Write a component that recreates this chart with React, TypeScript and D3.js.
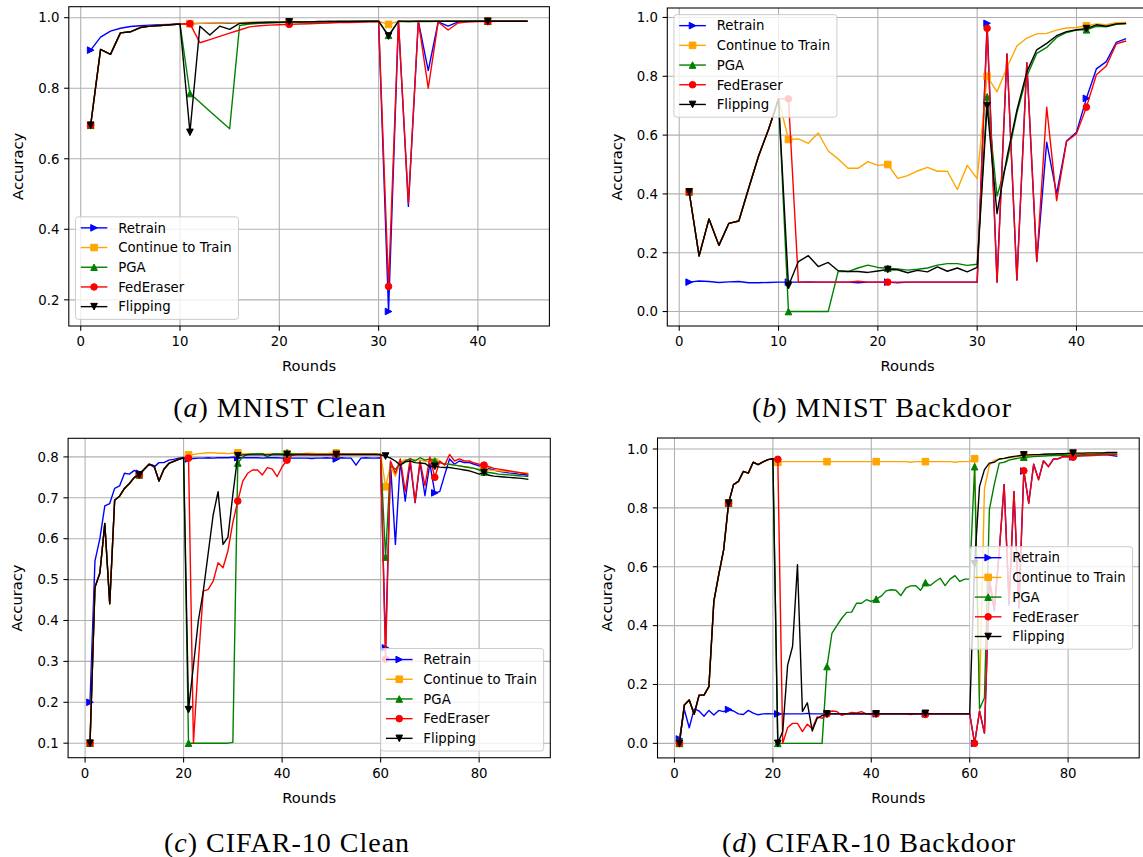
import React from 'react'
import * as d3 from 'd3'

const methods = ['Retrain', 'Continue to Train', 'PGA', 'FedEraser', 'Flipping']
const colors = ['#0000ff', '#ffa500', '#008000', '#ff0000', '#000000']
const markers = ['>', 's', '^', 'o', 'v']

// (a) MNIST Clean, rounds 1..45
const aWarmup = [0.695, 0.910, 0.896, 0.957, 0.960, 0.972, 0.976, 0.978, 0.980, 0.982]
const aRetrain = [
  0.908, 0.945, 0.962, 0.970, 0.975, 0.977, 0.979, 0.980, 0.981, 0.982,
  0.983, 0.984, 0.984, 0.985, 0.985, 0.986, 0.986, 0.987, 0.987, 0.987,
  0.988, 0.988, 0.988, 0.988, 0.989, 0.989, 0.989, 0.989, 0.990, 0.990,
  0.167, 0.990, 0.465, 0.990, 0.850, 0.988, 0.976, 0.988, 0.989, 0.990,
  0.990, 0.990, 0.990, 0.990, 0.990,
]
const aContinue = [...aWarmup,
  0.983, 0.984, 0.985, 0.985, 0.986, 0.986, 0.987, 0.987, 0.987, 0.988,
  0.988, 0.988, 0.988, 0.989, 0.989, 0.989, 0.989, 0.989, 0.990, 0.990,
  0.981, 0.990, 0.990, 0.990, 0.990, 0.990, 0.990, 0.990, 0.990, 0.990,
  0.990, 0.990, 0.990, 0.990, 0.990,
]
const aPGA = [...aWarmup,
  0.785, 0.760, 0.735, 0.710, 0.685, 0.978, 0.982, 0.984, 0.985, 0.986,
  0.987, 0.987, 0.988, 0.988, 0.988, 0.989, 0.989, 0.989, 0.989, 0.990,
  0.950, 0.990, 0.988, 0.990, 0.989, 0.990, 0.990, 0.990, 0.990, 0.990,
  0.990, 0.990, 0.990, 0.990, 0.990,
]
const aFedEraser = [...aWarmup,
  0.983, 0.929, 0.938, 0.947, 0.956, 0.965, 0.974, 0.977, 0.979, 0.980,
  0.981, 0.982, 0.983, 0.984, 0.985, 0.986, 0.986, 0.987, 0.988, 0.989,
  0.238, 0.990, 0.474, 0.990, 0.800, 0.988, 0.965, 0.985, 0.988, 0.989,
  0.989, 0.990, 0.990, 0.990, 0.990,
]
const aFlipping = [...aWarmup,
  0.675, 0.976, 0.951, 0.976, 0.967, 0.984, 0.985, 0.986, 0.987, 0.987,
  0.988, 0.988, 0.988, 0.989, 0.989, 0.989, 0.989, 0.990, 0.990, 0.990,
  0.948, 0.990, 0.990, 0.990, 0.990, 0.990, 0.990, 0.990, 0.990, 0.990,
  0.990, 0.990, 0.990, 0.990, 0.990,
]

// (b) MNIST Backdoor, rounds 1..45
const bWarmup = [0.407, 0.189, 0.315, 0.225, 0.300, 0.308, 0.420, 0.530, 0.620, 0.723]
const bRetrain = [
  0.100, 0.104, 0.102, 0.099, 0.101, 0.102, 0.098, 0.098, 0.099, 0.100,
  0.100, 0.100, 0.101, 0.100, 0.100, 0.100, 0.100, 0.098, 0.100, 0.100,
  0.100, 0.098, 0.100, 0.100, 0.100, 0.100, 0.100, 0.100, 0.100, 0.100,
  0.980, 0.100, 0.876, 0.107, 0.846, 0.170, 0.576, 0.400, 0.580, 0.610,
  0.725, 0.825, 0.850, 0.915, 0.928,
]
const bContinue = [...bWarmup,
  0.585, 0.587, 0.572, 0.607, 0.546, 0.519, 0.487, 0.487, 0.510, 0.497,
  0.500, 0.453, 0.462, 0.478, 0.490, 0.477, 0.477, 0.415, 0.497, 0.452,
  0.800, 0.747, 0.830, 0.903, 0.930, 0.944, 0.946, 0.957, 0.964, 0.966,
  0.972, 0.978, 0.975, 0.982, 0.983,
]
const bPGA = [...bWarmup,
  0.000, 0.000, 0.000, 0.000, 0.000, 0.136, 0.136, 0.148, 0.158, 0.150,
  0.147, 0.145, 0.141, 0.144, 0.148, 0.158, 0.163, 0.163, 0.157, 0.161,
  0.730, 0.393, 0.510, 0.675, 0.800, 0.878, 0.898, 0.932, 0.949, 0.957,
  0.958, 0.970, 0.968, 0.977, 0.978,
]
const bFedEraser = [...bWarmup,
  0.723, 0.100, 0.100, 0.100, 0.100, 0.100, 0.100, 0.103, 0.100, 0.100,
  0.100, 0.100, 0.100, 0.100, 0.100, 0.100, 0.100, 0.100, 0.100, 0.100,
  0.963, 0.100, 0.876, 0.107, 0.846, 0.170, 0.695, 0.377, 0.578, 0.605,
  0.695, 0.805, 0.835, 0.910, 0.920,
]
const bFlipping = [...bWarmup,
  0.088, 0.170, 0.190, 0.153, 0.167, 0.139, 0.136, 0.136, 0.133, 0.138,
  0.143, 0.142, 0.132, 0.140, 0.135, 0.152, 0.137, 0.148, 0.135, 0.150,
  0.700, 0.333, 0.525, 0.685, 0.815, 0.890, 0.912, 0.938, 0.952, 0.958,
  0.962, 0.975, 0.970, 0.978, 0.980,
]

// (c) CIFAR-10 Clean, rounds 1..90
const cWarmup = [
  0.100, 0.481, 0.516, 0.637, 0.441, 0.694, 0.704, 0.723, 0.735, 0.750,
  0.756, 0.770, 0.782, 0.778, 0.741, 0.770, 0.784, 0.789, 0.794, 0.798,
]
const cRetrain = [
  0.200, 0.545, 0.600, 0.680, 0.686, 0.723, 0.729, 0.760, 0.758, 0.767,
  0.760, 0.770, 0.782, 0.775, 0.786, 0.786, 0.792, 0.794, 0.797, 0.799,
  0.795, 0.796, 0.797, 0.797, 0.798, 0.797, 0.798, 0.798, 0.798, 0.799,
  0.798, 0.798, 0.798, 0.798, 0.798, 0.797, 0.798, 0.798, 0.798, 0.797,
  0.797, 0.797, 0.797, 0.797, 0.797, 0.796, 0.797, 0.797, 0.798, 0.797,
  0.795, 0.798, 0.797, 0.797, 0.780, 0.797, 0.798, 0.797, 0.797, 0.798,
  0.333, 0.785, 0.586, 0.790, 0.692, 0.787, 0.688, 0.786, 0.705, 0.784,
  0.712, 0.715, 0.756, 0.795, 0.782, 0.790, 0.786, 0.786, 0.782, 0.778,
  0.775, 0.771, 0.768, 0.765, 0.763, 0.761, 0.760, 0.758, 0.757, 0.755,
]
const cContinue = [...cWarmup,
  0.805, 0.806, 0.808, 0.809, 0.810, 0.810, 0.809, 0.809, 0.808, 0.809,
  0.810, 0.808, 0.808, 0.808, 0.808, 0.808, 0.807, 0.808, 0.808, 0.808,
  0.808, 0.808, 0.808, 0.808, 0.809, 0.809, 0.808, 0.808, 0.808, 0.809,
  0.810, 0.808, 0.808, 0.808, 0.808, 0.808, 0.808, 0.808, 0.808, 0.808,
  0.727, 0.778, 0.753, 0.786, 0.794, 0.792, 0.794, 0.792, 0.790, 0.788,
  0.787, 0.785, 0.783, 0.782, 0.780, 0.778, 0.776, 0.774, 0.772, 0.770,
  0.770, 0.768, 0.767, 0.766, 0.765, 0.764, 0.763, 0.762, 0.761, 0.760,
]
const cPGA = [...cWarmup,
  0.100, 0.100, 0.100, 0.100, 0.100, 0.100, 0.100, 0.100, 0.100, 0.102,
  0.785, 0.800, 0.806, 0.807, 0.808, 0.808, 0.800, 0.807, 0.808, 0.807,
  0.810, 0.808, 0.807, 0.807, 0.807, 0.806, 0.806, 0.806, 0.806, 0.806,
  0.806, 0.806, 0.806, 0.806, 0.806, 0.806, 0.806, 0.806, 0.806, 0.806,
  0.555, 0.778, 0.770, 0.782, 0.790, 0.796, 0.790, 0.798, 0.792, 0.795,
  0.790, 0.786, 0.783, 0.782, 0.780, 0.778, 0.776, 0.774, 0.772, 0.768,
  0.763, 0.762, 0.760, 0.758, 0.757, 0.756, 0.755, 0.754, 0.753, 0.752,
]
const cFedEraser = [...cWarmup,
  0.797, 0.100, 0.300, 0.472, 0.476, 0.496, 0.541, 0.529, 0.570, 0.640,
  0.692, 0.740, 0.760, 0.768, 0.768, 0.756, 0.774, 0.770, 0.752, 0.776,
  0.792, 0.804, 0.806, 0.806, 0.806, 0.806, 0.806, 0.806, 0.806, 0.806,
  0.806, 0.806, 0.806, 0.806, 0.806, 0.806, 0.806, 0.806, 0.806, 0.806,
  0.305, 0.790, 0.760, 0.795, 0.715, 0.795, 0.690, 0.790, 0.730, 0.800,
  0.750, 0.790, 0.780, 0.806, 0.790, 0.795, 0.790, 0.790, 0.785, 0.782,
  0.780, 0.776, 0.772, 0.770, 0.768, 0.766, 0.764, 0.762, 0.760, 0.758,
]
const cFlipping = [...cWarmup,
  0.182, 0.290, 0.400, 0.472, 0.565, 0.658, 0.715, 0.586, 0.604, 0.708,
  0.803, 0.805, 0.805, 0.805, 0.805, 0.805, 0.805, 0.805, 0.805, 0.805,
  0.806, 0.805, 0.805, 0.805, 0.805, 0.805, 0.805, 0.805, 0.805, 0.805,
  0.806, 0.806, 0.806, 0.806, 0.806, 0.806, 0.806, 0.806, 0.806, 0.805,
  0.802, 0.797, 0.790, 0.780, 0.788, 0.790, 0.786, 0.785, 0.784, 0.776,
  0.777, 0.775, 0.774, 0.774, 0.772, 0.770, 0.768, 0.766, 0.762, 0.758,
  0.762, 0.755, 0.753, 0.752, 0.751, 0.750, 0.749, 0.748, 0.747, 0.745,
]

// (d) CIFAR-10 Backdoor, rounds 1..90
const dWarmup = [
  0.000, 0.130, 0.147, 0.099, 0.164, 0.164, 0.193, 0.482, 0.573, 0.658,
  0.816, 0.879, 0.890, 0.924, 0.918, 0.955, 0.947, 0.956, 0.964, 0.967,
]
const dRetrain = [
  0.015, 0.115, 0.053, 0.117, 0.110, 0.092, 0.112, 0.096, 0.112, 0.108,
  0.115, 0.110, 0.100, 0.098, 0.112, 0.103, 0.097, 0.100, 0.101, 0.100,
  0.100, 0.100, 0.100, 0.100, 0.100, 0.100, 0.102, 0.100, 0.100, 0.100,
  0.100, 0.100, 0.100, 0.100, 0.100, 0.100, 0.100, 0.100, 0.100, 0.100,
  0.100, 0.100, 0.100, 0.100, 0.100, 0.100, 0.100, 0.100, 0.100, 0.100,
  0.100, 0.100, 0.100, 0.100, 0.100, 0.100, 0.100, 0.100, 0.100, 0.100,
  0.000, 0.110, 0.035, 0.550, 0.450, 0.650, 0.880, 0.470, 0.855, 0.460,
  0.925, 0.816, 0.948, 0.897, 0.960, 0.940, 0.966, 0.967, 0.975, 0.975,
  0.973, 0.977, 0.978, 0.978, 0.979, 0.980, 0.980, 0.980, 0.978, 0.975,
]
const dContinue = [...dWarmup,
  0.955, 0.957, 0.957, 0.957, 0.957, 0.957, 0.957, 0.957, 0.957, 0.957,
  0.957, 0.957, 0.957, 0.957, 0.957, 0.957, 0.957, 0.957, 0.957, 0.957,
  0.957, 0.957, 0.957, 0.957, 0.957, 0.957, 0.957, 0.955, 0.957, 0.957,
  0.957, 0.957, 0.957, 0.957, 0.957, 0.957, 0.955, 0.957, 0.957, 0.958,
  0.967, 0.160, 0.865, 0.945, 0.962, 0.965, 0.968, 0.970, 0.973, 0.975,
  0.977, 0.978, 0.978, 0.979, 0.980, 0.980, 0.981, 0.981, 0.982, 0.982,
  0.983, 0.983, 0.984, 0.984, 0.984, 0.985, 0.985, 0.985, 0.986, 0.986,
]
const dPGA = [...dWarmup,
  0.000, 0.000, 0.000, 0.000, 0.000, 0.000, 0.000, 0.000, 0.000, 0.000,
  0.261, 0.374, 0.400, 0.425, 0.445, 0.446, 0.476, 0.476, 0.488, 0.482,
  0.490, 0.500, 0.518, 0.522, 0.520, 0.502, 0.527, 0.535, 0.536, 0.520,
  0.546, 0.536, 0.550, 0.561, 0.536, 0.558, 0.570, 0.550, 0.558, 0.558,
  0.940, 0.117, 0.155, 0.794, 0.880, 0.952, 0.955, 0.962, 0.966, 0.969,
  0.972, 0.973, 0.974, 0.975, 0.976, 0.977, 0.978, 0.978, 0.979, 0.979,
  0.980, 0.980, 0.981, 0.981, 0.981, 0.982, 0.982, 0.982, 0.982, 0.982,
]
const dFedEraser = [...dWarmup,
  0.965, 0.000, 0.054, 0.068, 0.068, 0.040, 0.065, 0.050, 0.090, 0.085,
  0.100, 0.110, 0.108, 0.095, 0.100, 0.105, 0.103, 0.108, 0.100, 0.098,
  0.100, 0.100, 0.100, 0.100, 0.100, 0.100, 0.100, 0.098, 0.100, 0.100,
  0.098, 0.100, 0.100, 0.100, 0.100, 0.100, 0.100, 0.100, 0.100, 0.100,
  0.000, 0.110, 0.035, 0.560, 0.460, 0.650, 0.878, 0.480, 0.856, 0.470,
  0.926, 0.816, 0.948, 0.895, 0.960, 0.940, 0.966, 0.967, 0.973, 0.973,
  0.972, 0.976, 0.977, 0.978, 0.978, 0.979, 0.980, 0.980, 0.980, 0.980,
]
const dFlipping = [...dWarmup,
  0.000, 0.040, 0.266, 0.329, 0.607, 0.108, 0.138, 0.042, 0.085, 0.094,
  0.100, 0.100, 0.100, 0.100, 0.100, 0.100, 0.100, 0.100, 0.100, 0.100,
  0.100, 0.100, 0.100, 0.100, 0.100, 0.100, 0.100, 0.100, 0.100, 0.100,
  0.102, 0.100, 0.100, 0.100, 0.100, 0.100, 0.100, 0.100, 0.100, 0.100,
  0.610, 0.873, 0.930, 0.952, 0.955, 0.966, 0.968, 0.972, 0.975, 0.977,
  0.980, 0.980, 0.981, 0.981, 0.982, 0.983, 0.983, 0.984, 0.984, 0.985,
  0.986, 0.986, 0.986, 0.987, 0.987, 0.987, 0.987, 0.988, 0.988, 0.988,
]

const xTicksShort = [0, 10, 20, 30, 40]
const xTicksLong = [0, 20, 40, 60, 80]
const yTicksA = [0.2, 0.4, 0.6, 0.8, 1.0]
const yTicksB = [0.0, 0.2, 0.4, 0.6, 0.8, 1.0]
const yTicksC = [0.1, 0.2, 0.3, 0.4, 0.5, 0.6, 0.7, 0.8]

const FONT = '"DejaVu Sans", sans-serif'
const SERIF = '"Liberation Serif", "DejaVu Serif", serif'
const TICK_FS = 13.3
const LEG_FS = 13.3
const LABEL_FS = 14.7

function markerShape(type, r, color) {
  const common = { fill: color, stroke: color, strokeWidth: 1 }
  if (type === 'o') return <circle r={r} {...common} />
  let d = ''
  if (type === '>') d = `M${r},0L${-r},${-r}L${-r},${r}Z`
  if (type === '^') d = `M0,${-r}L${r},${r}L${-r},${r}Z`
  if (type === 'v') d = `M0,${r}L${r},${-r}L${-r},${-r}Z`
  if (type === 's') d = `M${-r},${-r}H${r}V${r}H${-r}Z`
  return <path d={d} {...common} />
}

function Panel({ box, series, xTicks, yTicks, legend, caption }) {
  const n = series[0].length
  const pad = 0.05 * (n - 1)
  const x = d3.scaleLinear().domain([1 - pad, n + pad]).range([box.left, box.right])
  const [lo, hi] = d3.extent(series.flat())
  const ypad = 0.05 * (hi - lo)
  const y = d3.scaleLinear().domain([lo - ypad, hi + ypad]).range([box.bottom, box.top])
  const line = d3.line().x((d, i) => x(i + 1)).y(d => y(d))
  const fmt = d3.format('.1f')
  const r = 3.3

  // legend box (matplotlib-like)
  const rowH = 19.7
  const legW = 163
  const legH = 102.5
  const lx = legend.anchor === 'right' ? box.right - 6.65 - legW : box.left + 6.65
  let ly = box.top + 6.65
  if (legend.v === 'bottom') ly = box.bottom - 6.65 - legH
  if (legend.v === 'center') ly = (box.top + box.bottom) / 2 - legH / 2

  return (
    <g>
      <defs>
        <clipPath id={`clip-${caption.tag}`}>
          <rect x={box.left} y={box.top} width={box.right - box.left} height={box.bottom - box.top} />
        </clipPath>
      </defs>
      {/* grid */}
      <g stroke="#b0b0b0" strokeWidth={1.07}>
        {xTicks.map(t => (
          <line key={'gx' + t} x1={x(t)} x2={x(t)} y1={box.top} y2={box.bottom} />
        ))}
        {yTicks.map(t => (
          <line key={'gy' + t} x1={box.left} x2={box.right} y1={y(t)} y2={y(t)} />
        ))}
      </g>
      {/* series */}
      <g clipPath={`url(#clip-${caption.tag})`}>
        {series.map((s, k) => (
          <g key={k}>
            <path d={line(s)} fill="none" stroke={colors[k]} strokeWidth={1.4} strokeLinejoin="round" />
            {s.map((v, i) =>
              i % 10 === 0 ? (
                <g key={i} transform={`translate(${x(i + 1)},${y(v)})`}>
                  {markerShape(markers[k], r, colors[k])}
                </g>
              ) : null
            )}
          </g>
        ))}
      </g>
      {/* spines */}
      <rect x={box.left} y={box.top} width={box.right - box.left} height={box.bottom - box.top}
        fill="none" stroke="#000" strokeWidth={1.07} />
      {/* x ticks */}
      {xTicks.map(t => (
        <g key={'xt' + t}>
          <line x1={x(t)} x2={x(t)} y1={box.bottom} y2={box.bottom + 4.7} stroke="#000" strokeWidth={1.07} />
          <text x={x(t)} y={box.bottom + 9.4 + 10.5} textAnchor="middle" fontFamily={FONT} fontSize={TICK_FS}>{t}</text>
        </g>
      ))}
      {/* y ticks */}
      {yTicks.map(t => (
        <g key={'yt' + t}>
          <line x1={box.left - 4.7} x2={box.left} y1={y(t)} y2={y(t)} stroke="#000" strokeWidth={1.07} />
          <text x={box.left - 9.4} y={y(t)} dy="0.36em" textAnchor="end" fontFamily={FONT} fontSize={TICK_FS}>{fmt(t)}</text>
        </g>
      ))}
      {/* axis labels */}
      <text x={(box.left + box.right) / 2} y={box.bottom + 45} textAnchor="middle" fontFamily={FONT} fontSize={LABEL_FS}>Rounds</text>
      <text transform={`translate(${box.left - 51},${(box.top + box.bottom) / 2}) rotate(-90)`} dy="0.36em"
        textAnchor="middle" fontFamily={FONT} fontSize={LABEL_FS}>Accuracy</text>
      {/* legend */}
      <g transform={`translate(${lx},${ly})`}>
        <rect x={0} y={0} width={legW} height={legH} rx={2.7} fill="#fff" fillOpacity={0.8} stroke="#cccccc" strokeWidth={1} />
        {methods.map((m, k) => {
          const cy = 11 + k * rowH
          return (
            <g key={m}>
              <line x1={5.3} x2={31.9} y1={cy} y2={cy} stroke={colors[k]} strokeWidth={1.4} />
              <g transform={`translate(18.6,${cy})`}>{markerShape(markers[k], r, colors[k])}</g>
              <text x={42.7} y={cy} dy="0.36em" fontFamily={FONT} fontSize={LEG_FS}>{m}</text>
            </g>
          )
        })}
      </g>
      {/* caption */}
      <text x={caption.x} y={caption.y} textAnchor="middle" fontFamily={SERIF} fontSize={28} letterSpacing={1}>
        (<tspan fontStyle="italic">{caption.tag}</tspan>) {caption.text}
      </text>
    </g>
  )
}

export default function App() {
  return (
    <div style={{ position: 'absolute', left: 0, top: 0, background: '#fff' }}>
      <svg width={1143} height={857} style={{ display: 'block' }}>
        <rect width={1143} height={857} fill="#fff" />
        <Panel
          box={{ left: 68.8, top: 6.7, right: 549.4, bottom: 326 }}
          series={[aRetrain, aContinue, aPGA, aFedEraser, aFlipping]}
          xTicks={xTicksShort} yTicks={yTicksA}
          legend={{ anchor: 'left', v: 'bottom' }}
          caption={{ tag: 'a', text: 'MNIST Clean', x: 280, y: 417 }}
        />
        <Panel
          box={{ left: 667.3, top: 8, right: 1148, bottom: 326 }}
          series={[bRetrain, bContinue, bPGA, bFedEraser, bFlipping]}
          xTicks={xTicksShort} yTicks={yTicksB}
          legend={{ anchor: 'left', v: 'top' }}
          caption={{ tag: 'b', text: 'MNIST Backdoor', x: 882, y: 417 }}
        />
        <Panel
          box={{ left: 68.1, top: 438.3, right: 550.3, bottom: 757.7 }}
          series={[cRetrain, cContinue, cPGA, cFedEraser, cFlipping]}
          xTicks={xTicksLong} yTicks={yTicksC}
          legend={{ anchor: 'right', v: 'bottom' }}
          caption={{ tag: 'c', text: 'CIFAR-10 Clean', x: 287, y: 852 }}
        />
        <Panel
          box={{ left: 657.5, top: 438, right: 1139.2, bottom: 757.9 }}
          series={[dRetrain, dContinue, dPGA, dFedEraser, dFlipping]}
          xTicks={xTicksLong} yTicks={yTicksB}
          legend={{ anchor: 'right', v: 'center' }}
          caption={{ tag: 'd', text: 'CIFAR-10 Backdoor', x: 869, y: 852 }}
        />
      </svg>
    </div>
  )
}
